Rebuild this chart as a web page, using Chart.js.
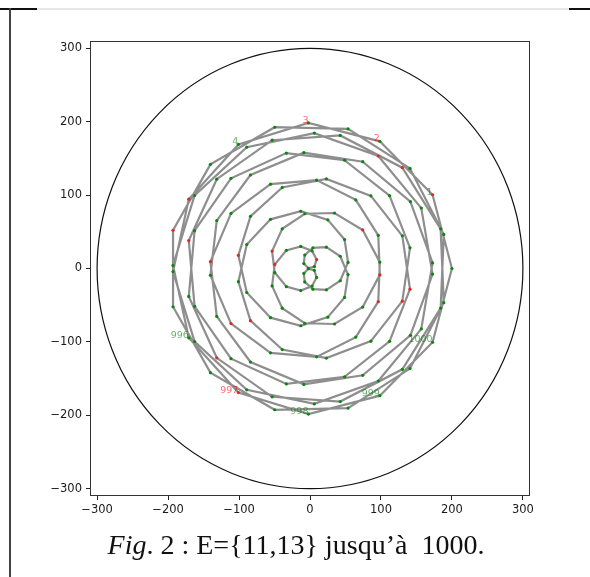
<!DOCTYPE html>
<html>
<head>
<meta charset="utf-8">
<script src="https://cdn.jsdelivr.net/npm/chart.js@4.4.1/dist/chart.umd.min.js"></script>
<style>
    html, body { margin: 0; padding: 0; background: #fff; }
    #page { position: relative; width: 590px; height: 577px; overflow: hidden; }
    #plot { position: absolute; left: 0; top: 0; }
    .rule { position: absolute; }
    #caption {
        position: absolute; left: 0; top: 529px; width: 592px;
        text-align: center; font-family: "Liberation Serif", "DejaVu Serif", serif;
        font-size: 28px; color: #111; white-space: nowrap;
    }
</style>
</head>
<body>
<div id="page">
    <div class="rule" style="left:0;top:8px;width:37px;height:2px;background:#111"></div>
    <div class="rule" style="left:37px;top:8px;width:532px;height:2px;background:#e8e8e8"></div>
    <div class="rule" style="left:569px;top:8px;width:21px;height:2px;background:#111"></div>
    <div class="rule" style="left:9px;top:8px;width:2px;height:569px;background:#444"></div>
    <canvas id="plot" width="590" height="530"></canvas>
    <div id="caption"><i>Fig</i>. 2 : E={11,13} jusqu’à&nbsp;&nbsp;1000.</div>
</div>
<script>
// positions of the numbers 858..1000 (one full turn: 1..857 repeat the same places)
const pointX = [
    200.0, 172.7, 98.4, -2.2, -100.9, -170.8, -193.0, -162.6, -89.1, 6.1,
    96.2, 156.8, 172.7, 141.5, 74.3, -8.7, -83.9, -131.4, -140.3, -111.3,
    -55.6, 9.3, 64.5, 96.2, 98.4, 74.3, 34.5, -7.4, -39.1, -53.4,
    -49.7, -33.3, -13.0, 2.9, 9.3, 6.1, -2.2, -8.7, -7.4, 4.1,
    23.1, 42.6, 53.6, 48.7, 25.1, -13.0, -55.6, -89.1, -100.9, -83.9,
    -39.1, 23.1, 85.8, 130.1, 140.9, 112.1, 48.7, -33.3, -111.3, -162.6,
    -170.8, -131.4, -53.4, 42.6, 130.1, 184.1, 188.5, 140.9, 53.6, -49.7,
    -140.3, -193.0, -193.0, -140.3, -49.7, 53.6, 140.9, 188.5, 184.1, 130.1,
    42.6, -53.4, -131.4, -170.8, -162.6, -111.3, -33.3, 48.7, 112.1, 140.9,
    130.1, 85.8, 23.1, -39.1, -83.9, -100.9, -89.1, -55.6, -13.0, 25.1,
    48.7, 53.6, 42.6, 23.1, 4.1, -7.4, -8.7, -2.2, 6.1, 9.3,
    2.9, -13.0, -33.3, -49.7, -53.4, -39.1, -7.4, 34.5, 74.3, 98.4,
    96.2, 64.5, 9.3, -55.6, -111.3, -140.3, -131.4, -83.9, -8.7, 74.3,
    141.5, 172.7, 156.8, 96.2, 6.1, -89.1, -162.6, -193.0, -170.8, -100.9,
    -2.2, 98.4, 172.7
];
const pointY = [
    0.0, 100.5, 173.3, 198.3, 169.1, 94.5, -4.2, -99.5, -165.3, -184.5,
    -153.3, -82.3, 7.6, 91.0, 145.5, 157.9, 127.4, 65.3, -9.3, -75.1,
    -114.9, -120.4, -93.5, -45.2, 8.7, 52.5, 75.6, 74.6, 54.1, 23.7,
    -5.5, -24.7, -30.1, -23.9, -12.2, -2.5, -0.3, -6.7, -18.3, -28.2,
    -29.1, -16.7, 8.3, 39.4, 66.3, 78.0, 67.0, 32.7, -17.9, -71.1,
    -110.5, -122.0, -99.0, -44.5, 28.2, 99.3, 147.6, 157.3, 122.9, 51.6,
    -38.1, -121.7, -174.8, -181.3, -137.4, -54.1, 46.5, 136.4, 190.2, 192.5,
    141.9, 52.1, -52.1, -141.9, -192.5, -190.2, -136.4, -46.5, 54.1, 137.4,
    181.3, 174.8, 121.7, 38.1, -51.6, -122.9, -157.3, -147.6, -99.3, -28.2,
    44.5, 99.0, 122.0, 110.5, 71.1, 17.9, -32.7, -67.0, -78.0, -66.3,
    -39.4, -8.3, 16.7, 29.1, 28.2, 18.3, 6.7, 0.3, 2.5, 12.2,
    23.9, 30.1, 24.7, 5.5, -23.7, -54.1, -74.6, -75.6, -52.5, -8.7,
    45.2, 93.5, 120.4, 114.9, 75.1, 9.3, -65.3, -127.4, -157.9, -145.5,
    -91.0, -7.6, 82.3, 153.3, 184.5, 165.3, 99.5, 4.2, -94.5, -169.1,
    -198.3, -173.3, -100.5
];
// indices above that hold a prime (859, 863, 877, ... 997)
const primeAt = [1, 5, 19, 23, 25, 29, 49, 53, 61, 71, 79, 83, 89, 95, 109, 113, 119, 125, 133, 139];

// numbers written next to their point
const labelText = ["1", "2", "3", "4", "996", "997", "998", "999", "1000"];
const labelAt = [1, 2, 3, 4, 138, 139, 140, 141, 142];
const labelPrime = [false, true, true, false, false, true, false, false, false];

const circleRadius = 300;
const xTicks = [-300, -200, -100, 0, 100, 200, 300];
const yTicks = [-300, -200, -100, 0, 100, 200, 300];
const axisMin = -310;
const axisMax = 310;

const GREEN = "#0d860d";
const RED = "#e5261c";

const points = pointX.map((x, i) => ({ x: x, y: pointY[i] }));
const loop = points.concat([points[0]]);
const dotColors = points.map((p, i) => primeAt.includes(i) ? RED : GREEN);

const extras = {
    id: "extras",
    beforeDatasetsDraw(chart) {
        const { ctx, scales: { x, y } } = chart;
        const cx = x.getPixelForValue(0), cy = y.getPixelForValue(0);
        const rx = x.getPixelForValue(circleRadius) - cx;
        const ry = cy - y.getPixelForValue(circleRadius);
        ctx.save();
        ctx.strokeStyle = "#111";
        ctx.lineWidth = 1.2;
        ctx.beginPath();
        ctx.ellipse(cx, cy, rx, ry, 0, 0, Math.PI * 2);
        ctx.stroke();
        ctx.restore();
    },
    afterDatasetsDraw(chart) {
        const { ctx, chartArea: a, scales: { x, y } } = chart;
        ctx.save();
        ctx.font = "9.5px 'DejaVu Sans'";
        ctx.textAlign = "right";
        ctx.textBaseline = "alphabetic";
        labelText.forEach((t, i) => {
            const p = points[labelAt[i]];
            ctx.fillStyle = labelPrime[i] ? "rgba(255,0,0,0.6)" : "rgba(0,128,0,0.6)";
            ctx.fillText(t, x.getPixelForValue(p.x), y.getPixelForValue(p.y));
        });
        ctx.strokeStyle = "#333";
        ctx.lineWidth = 1;
        ctx.strokeRect(a.left + 0.5, a.top + 0.5, a.right - a.left - 1, a.bottom - a.top - 1);
        ctx.restore();
    }
};

const tickFont = { family: "'DejaVu Sans'", size: 11.5 };
const fmt = v => (v < 0 ? "\u2212" + Math.abs(v) : String(v));

new Chart(document.getElementById("plot"), {
    type: "scatter",
    data: {
        datasets: [
            {
                data: points,
                pointRadius: 1.6,
                pointBorderWidth: 0,
                pointBackgroundColor: dotColors,
                showLine: false,
                order: 0
            },
            {
                data: loop,
                showLine: true,
                borderColor: "#8e8e8e",
                borderWidth: 2.2,
                pointRadius: 0,
                order: 1
            }
        ]
    },
    options: {
        responsive: false,
        animation: false,
        events: [],
        layout: { padding: { top: 41, right: 60, left: 0, bottom: 0 } },
        plugins: { legend: { display: false }, tooltip: { enabled: false } },
        scales: {
            x: {
                min: axisMin, max: axisMax,
                afterBuildTicks: s => { s.ticks = xTicks.map(v => ({ value: v })); },
                afterFit: s => { s.height = 34; },
                grid: { drawOnChartArea: false, tickLength: 4, color: "#222" },
                border: { display: false },
                ticks: { font: tickFont, color: "#1a1a1a", padding: 3, maxRotation: 0, callback: fmt }
            },
            y: {
                min: axisMin, max: axisMax,
                afterBuildTicks: s => { s.ticks = yTicks.map(v => ({ value: v })); },
                afterFit: s => { s.width = 90; },
                grid: { drawOnChartArea: false, tickLength: 4, color: "#222" },
                border: { display: false },
                ticks: { font: tickFont, color: "#1a1a1a", padding: 4, callback: fmt }
            }
        }
    },
    plugins: [extras]
});
</script>
</body>
</html>
